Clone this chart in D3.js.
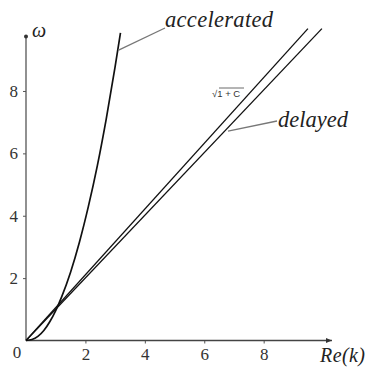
<!DOCTYPE html>
<html>
<head>
<meta charset="utf-8">
<script src="https://cdn.jsdelivr.net/npm/d3@7"></script>
<style>
  body { margin: 0; background: #fff; }
  svg { display: block; }
  .serif { font-family: "Liberation Serif", Tinos, "Times New Roman", Times, serif; }
</style>
</head>
<body>
<svg id="chart" width="367" height="369"></svg>
<script>
// values
var accelK = [0, 0.2, 0.4, 0.6, 0.8, 1.0, 1.2, 1.5, 1.8, 2.1, 2.4, 2.7, 3.0, 3.18];
var accelW = [0, 0.03, 0.13, 0.32, 0.6, 0.96, 1.4, 2.19, 3.16, 4.3, 5.6, 7.1, 8.78, 9.86];
var sqrtK = [0, 9.49];
var sqrtW = [0, 10.0];
var delayK = [0, 9.96];
var delayW = [0, 10.0];
var xTicks = [2, 4, 6, 8];
var yTicks = [2, 4, 6, 8];

var svg = d3.select('#chart');
var x = d3.scaleLinear().domain([0, 10.3]).range([26, 332]);
var y = d3.scaleLinear().domain([0, 9.75]).range([340.5, 36.4]);

// axes
var gx = svg.append("g")
    .attr("transform", "translate(0," + y(0) + ")")
    .call(d3.axisBottom(x).tickValues(xTicks).tickSize(3).tickPadding(4));
var gy = svg.append("g")
    .attr("transform", "translate(" + x(0) + ",0)")
    .call(d3.axisLeft(y).tickValues(yTicks).tickSize(3).tickPadding(5));
gx.select(".domain").remove();
gy.select(".domain").remove();
gx.attr("font-family", null).attr("font-size", null).attr("class", "serif");
gy.attr("font-family", null).attr("font-size", null).attr("class", "serif");
svg.selectAll(".tick line").attr("stroke", "#555");
svg.selectAll(".tick text")
    .attr("font-size", 17)
    .attr("fill", "#333");

svg.append("line")
    .attr("x1", x(0)).attr("x2", x(10.3))
    .attr("y1", y(0)).attr("y2", y(0))
    .attr("stroke", "#444").attr("stroke-width", 1.3);
svg.append("line")
    .attr("x1", x(0)).attr("x2", x(0))
    .attr("y1", y(0)).attr("y2", y(9.75))
    .attr("stroke", "#555").attr("stroke-width", 1.3);
// arrow heads
svg.append("path")
    .attr("d", "M" + x(10.3) + "," + y(0) + "l-6,-2.5l0,5z")
    .attr("fill", "#333");
svg.append("circle")
    .attr("cx", x(0)).attr("cy", y(9.75)).attr("r", 2)
    .attr("fill", "#333");

svg.append("text")
    .attr("class", "serif")
    .attr("x", 17).attr("y", 358)
    .attr("text-anchor", "middle")
    .attr("font-size", 17).attr("fill", "#333")
    .text("0");

// curves
var line = d3.line().x(function(d) { return x(d[0]); }).y(function(d) { return y(d[1]); });
var curve = d3.line().curve(d3.curveMonotoneX)
    .x(function(d) { return x(d[0]); }).y(function(d) { return y(d[1]); });

svg.append("path")
    .attr("d", curve(d3.zip(accelK, accelW)))
    .attr("fill", "none").attr("stroke", "#111").attr("stroke-width", 1.7);
svg.append("path")
    .attr("d", line(d3.zip(sqrtK, sqrtW)))
    .attr("fill", "none").attr("stroke", "#111").attr("stroke-width", 1.3);
svg.append("path")
    .attr("d", line(d3.zip(delayK, delayW)))
    .attr("fill", "none").attr("stroke", "#111").attr("stroke-width", 1.3);

// leaders and labels
svg.append("line")
    .attr("x1", x(3.1)).attr("y1", y(9.3))
    .attr("x2", 165).attr("y2", 28)
    .attr("stroke", "#777").attr("stroke-width", 1.3);
svg.append("line")
    .attr("x1", x(6.8)).attr("y1", y(6.71))
    .attr("x2", 277).attr("y2", 121)
    .attr("stroke", "#777").attr("stroke-width", 1.3);

function label(tx, ty, size, txt, len) {
    var t = svg.append("text")
        .attr("class", "serif")
        .attr("x", tx).attr("y", ty)
        .attr("font-style", "italic")
        .attr("font-size", size).attr("fill", "#222")
        .text(txt);
    if (len) t.attr("textLength", len);
    return t;
}
label(165, 27, 22.5, "accelerated", 108);
label(278, 127, 22.5, "delayed", 70);
label(320, 362, 20, "Re(k)", 45);
label(32, 37, 20, "ω");

// sqrt(1+C) label
svg.append("text")
    .attr("x", 212).attr("y", 97)
    .attr("font-family", "Liberation Sans, sans-serif")
    .attr("font-size", 9.5).attr("fill", "#333")
    .text("√1 + C");
svg.append("line")
    .attr("x1", 219).attr("x2", 244)
    .attr("y1", 88).attr("y2", 88)
    .attr("stroke", "#444").attr("stroke-width", 0.8);
</script>
</body>
</html>
